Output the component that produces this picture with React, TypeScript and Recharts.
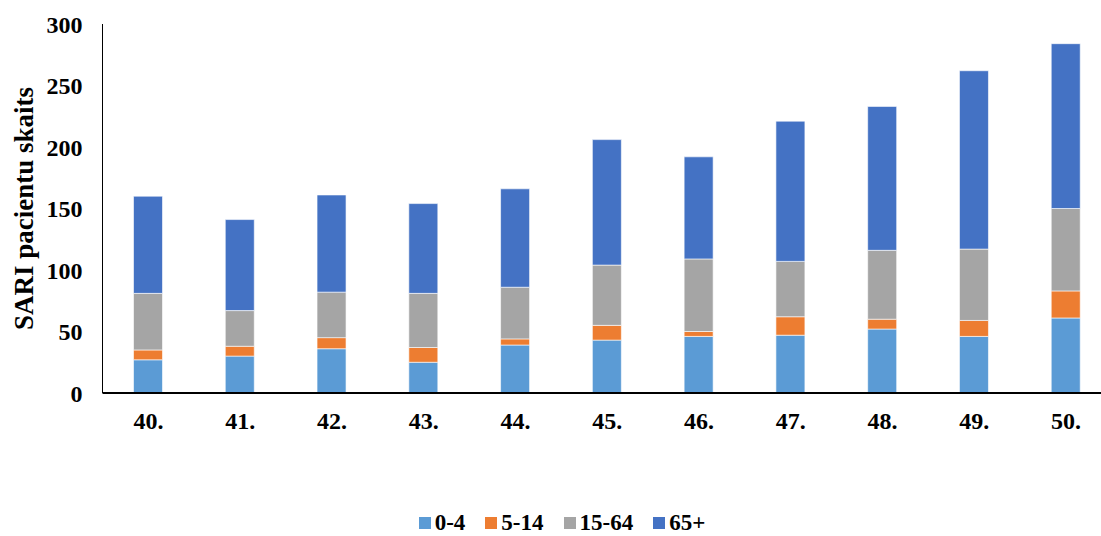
import React from "react";
import { BarChart, Bar, XAxis, YAxis, Legend } from "recharts";

const weeks = ["40.", "41.", "42.", "43.", "44.", "45.", "46.", "47.", "48.", "49.", "50."];
const age0to4 = [27, 30, 36, 25, 39, 43, 46, 47, 52, 46, 61];
const age5to14 = [8, 8, 9, 12, 5, 12, 4, 15, 8, 13, 22];
const age15to64 = [46, 29, 37, 44, 42, 49, 59, 45, 56, 58, 67];
const age65plus = [79, 74, 79, 73, 80, 102, 83, 114, 117, 145, 134];
const yTicks = [0, 50, 100, 150, 200, 250, 300];

const series = [
  { key: "a0_4", name: "0-4", color: "#5B9BD5" },
  { key: "a5_14", name: "5-14", color: "#ED7D31" },
  { key: "a15_64", name: "15-64", color: "#A5A5A5" },
  { key: "a65", name: "65+", color: "#4472C4" },
];

const data = weeks.map((w, i) => ({
  week: w,
  a0_4: age0to4[i],
  a5_14: age5to14[i],
  a15_64: age15to64[i],
  a65: age65plus[i],
}));

const FONT = '"Liberation Serif", "Times New Roman", serif';

function YLabel(props: any) {
  const vb = props.viewBox || {};
  const cx = 24;
  const cy = vb.y + vb.height / 2;
  return (
    <text
      x={cx}
      y={cy}
      transform={`rotate(-90, ${cx}, ${cy})`}
      textAnchor="middle"
      dominantBaseline="central"
      fontFamily={FONT}
      fontWeight="bold"
      fontSize={27}
      fill="#000"
    >
      SARI pacientu skaits
    </text>
  );
}

function LegendBox() {
  return (
    <div
      style={{
        display: "flex",
        justifyContent: "center",
        alignItems: "center",
        fontFamily: FONT,
        fontWeight: "bold",
        fontSize: 23,
        lineHeight: "18px",
        height: 18,
        color: "#000",
      }}
    >
      {series.map((s) => (
        <div key={s.key} style={{ display: "flex", alignItems: "center", margin: "0 10px" }}>
          <span style={{ width: 12, height: 12, background: s.color, marginRight: 4, display: "inline-block" }} />
          <span>{s.name}</span>
        </div>
      ))}
    </div>
  );
}

export default function App() {
  return (
    <div
      style={{
        position: "absolute",
        left: 0,
        top: 0,
        width: 1101,
        height: 536,
        overflow: "hidden",
        background: "#fff",
      }}
    >
      <BarChart
        width={1120}
        height={536}
        data={data}
        margin={{ top: 24, right: 8, left: 0, bottom: 103 }}
        barSize={29}
      >
        <XAxis
          dataKey="week"
          height={40}
          tickLine={false}
          tickSize={0}
          tickMargin={19}
          axisLine={{ stroke: "#000", strokeWidth: 2 }}
          tick={{ fill: "#000", fontFamily: FONT, fontWeight: "bold", fontSize: 24 }}
        />
        <YAxis
          width={102.5}
          domain={[0, 300]}
          ticks={yTicks}
          interval={0}
          tickLine={false}
          tickSize={0}
          tickMargin={20}
          axisLine={{ stroke: "#000", strokeWidth: 1 }}
          tick={{ fill: "#000", fontFamily: FONT, fontWeight: "bold", fontSize: 24 }}
          label={<YLabel />}
        />
        <Legend
          verticalAlign="middle"
          align="center"
          content={<LegendBox />}
          wrapperStyle={{ top: 513.5, left: 0, width: 1124, height: 18 }}
        />
        {series.map((s) => (
          <Bar
            key={s.key}
            dataKey={s.key}
            name={s.name}
            stackId="a"
            fill={s.color}
            stroke="#ffffff"
            strokeWidth={0.6}
            isAnimationActive={false}
          />
        ))}
      </BarChart>
    </div>
  );
}
